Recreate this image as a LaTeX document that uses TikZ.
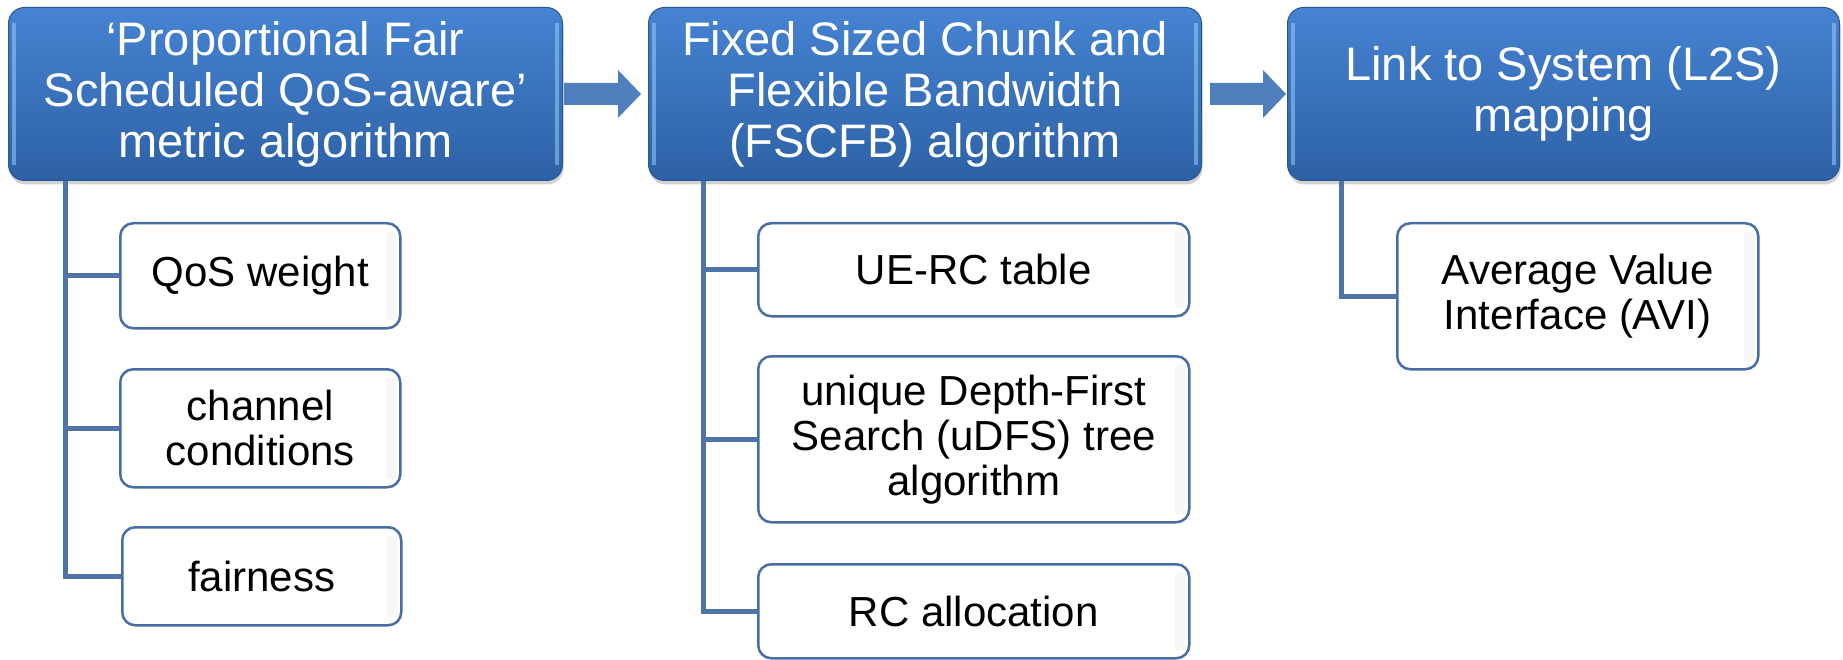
\documentclass[tikz,border=0pt]{standalone}
\usepackage{fontspec}
\setmainfont{Liberation Sans}
\usetikzlibrary{shadows,calc}

\definecolor{hdtop}{RGB}{70,131,210}
\definecolor{hdbot}{RGB}{45,97,165}
\definecolor{hdedge}{RGB}{42,86,146}
\definecolor{linkblue}{RGB}{79,116,168}
\definecolor{boxedge}{RGB}{72,110,165}
\definecolor{arrowblue}{RGB}{79,128,189}
\definecolor{bevel}{RGB}{150,204,248}

\tikzset{
  header/.style={anchor=north west, rounded corners=16pt,
    top color=hdtop, bottom color=hdbot, draw=hdedge, line width=1pt,
    text=white, font=\fontsize{47}{51}\selectfont, align=center, inner sep=0pt,
    minimum height=173pt,
    drop shadow={opacity=0.35, shadow xshift=1pt, shadow yshift=-4pt}},
  leaf/.style={anchor=north west, rounded corners=13pt, fill=white,
    draw=boxedge, line width=2.5pt, font=\fontsize{42}{45}\selectfont,
    align=center, inner sep=0pt},
  conn/.style={draw=linkblue, line width=5pt},
  flow/.style={fill=arrowblue},
  edgelight/.style={fill=bevel, opacity=0.55},
  innershade/.style={fill=black, opacity=0.03}
}

\begin{document}
\begin{tikzpicture}[x=1pt, y=-1pt]
  \fill[white] (0,0) rectangle (1843,660);
  \useasboundingbox (0,0) rectangle (1843,660);

  % top row of process steps
  \node[header, minimum width=554pt] (h1) at (8,7)
    {‘Proportional Fair\\Scheduled QoS-aware’\\metric algorithm};
  \node[header, minimum width=553pt] (h2) at (648,7)
    {Fixed Sized Chunk and\\Flexible Bandwidth\\(FSCFB) algorithm};
  \node[header, minimum width=552pt] (h3) at (1287,7)
    {Link to System (L2S)\\mapping};

  % light bevel strips on the step boxes
  \foreach \h in {h1,h2,h3} {
    \fill[edgelight] ([xshift=4pt,yshift=-16pt]\h.north west) rectangle ([xshift=8pt,yshift=16pt]\h.south west);
    \fill[edgelight] ([xshift=-8pt,yshift=-16pt]\h.north east) rectangle ([xshift=-4pt,yshift=16pt]\h.south east);
  }

  % block arrows between the steps
  \coordinate (a1) at ($(h1.east)+(1,0)$);
  \coordinate (t1) at ($(h2.west)+(-7,0)$);
  \fill[flow] ($(a1)+(0,-11)$) -- ($(a1)+(54,-11)$) -- ($(a1)+(54,-24)$) -- (t1)
    -- ($(a1)+(54,24)$) -- ($(a1)+(54,11)$) -- ($(a1)+(0,11)$) -- cycle;
  \coordinate (a2) at ($(h2.east)+(8,0)$);
  \coordinate (t2) at ($(h3.west)+(-1,0)$);
  \fill[flow] ($(a2)+(0,-11)$) -- ($(a2)+(53,-11)$) -- ($(a2)+(53,-24)$) -- (t2)
    -- ($(a2)+(53,24)$) -- ($(a2)+(53,11)$) -- ($(a2)+(0,11)$) -- cycle;

  % sub-items
  \node[leaf, minimum width=280pt, minimum height=105pt] (c11) at (119,222) {QoS weight};
  \node[leaf, minimum width=280pt, minimum height=118pt] (c12) at (119,368) {channel\\conditions};
  \node[leaf, minimum width=279pt, minimum height=98pt]  (c13) at (121,526) {fairness};

  \node[leaf, minimum width=431pt, minimum height=93pt]  (c21) at (757,222) {UE-RC table};
  \node[leaf, minimum width=431pt, minimum height=166pt] (c22) at (757,355)
    {unique Depth-First\\Search (uDFS) tree\\algorithm};
  \node[leaf, minimum width=431pt, minimum height=94pt]  (c23) at (757,563) {RC allocation};

  \node[leaf, minimum width=361pt, minimum height=146pt] (c31) at (1396,222)
    {Average Value\\Interface (AVI)};

  % faint inner shade along the right side of each sub-item
  \foreach \c in {c11,c12,c13,c21,c22,c23,c31} {
    \fill[innershade] ([xshift=-16pt,yshift=-10pt]\c.north east) rectangle ([xshift=-6pt,yshift=10pt]\c.south east);
  }

  % tree connectors
  \coordinate (v1) at ([xshift=57pt]h1.south west);
  \coordinate (v2) at ([xshift=55pt]h2.south west);
  \coordinate (v3) at ([xshift=54pt]h3.south west);

  \draw[conn] (v1) |- (c13.west);
  \draw[conn] (v1 |- c11.west) -- (c11.west);
  \draw[conn] (v1 |- c12.west) -- (c12.west);

  \draw[conn] (v2) |- (c23.west);
  \draw[conn] (v2 |- c21.west) -- (c21.west);
  \draw[conn] (v2 |- c22.west) -- (c22.west);

  \draw[conn] (v3) |- (c31.west);
\end{tikzpicture}
\end{document}
